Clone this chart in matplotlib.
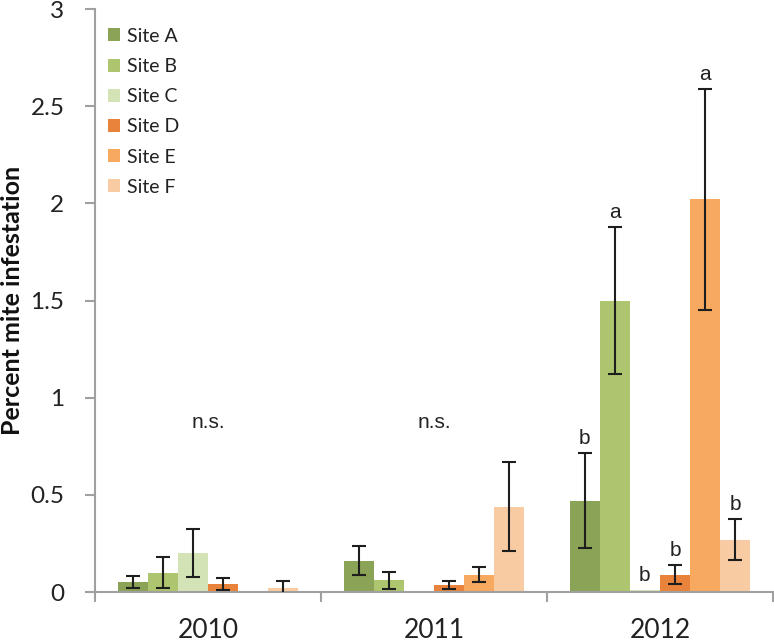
import matplotlib.pyplot as plt
import numpy as np

years = ["2010", "2011", "2012"]
sites = ["Site A", "Site B", "Site C", "Site D", "Site E", "Site F"]
colors = ["#8aa356", "#adc56f", "#d4e3b6", "#e9833b", "#f6a95f", "#f9cba3"]

# mean infestation per site, one list per year
means = {
    "Site A": [0.05, 0.16, 0.47],
    "Site B": [0.10, 0.06, 1.50],
    "Site C": [0.20, 0.005, 0.01],
    "Site D": [0.04, 0.035, 0.09],
    "Site E": [0.0, 0.09, 2.02],
    "Site F": [0.02, 0.44, 0.27],
}
errors = {
    "Site A": [0.03, 0.075, 0.245],
    "Site B": [0.08, 0.045, 0.38],
    "Site C": [0.125, 0.0, 0.0],
    "Site D": [0.03, 0.02, 0.05],
    "Site E": [0.0, 0.04, 0.57],
    "Site F": [0.035, 0.23, 0.105],
}
# significance letters for 2012, in site order
letters_2012 = ["b", "a", "b", "b", "a", "b"]
ns_years = [0, 1]
ns_height = 0.87

plt.rcParams["font.family"] = ["Lato", "DejaVu Sans"]

fig = plt.figure(figsize=(7.74, 6.43), dpi=100)
ax = fig.add_axes([0.1227, 0.0793, 0.876, 0.9067])

x = np.arange(len(years))
width = 1 / 7.5
for i, site in enumerate(sites):
    pos = x + (i - 2.5) * width
    vals = np.array(means[site])
    errs = np.array(errors[site])
    ax.bar(pos, vals, width, color=colors[i], label=site, zorder=2)
    show = errs > 0
    ax.errorbar(pos[show], vals[show], yerr=errs[show], fmt="none",
                ecolor="#1e1e1e", elinewidth=1.5, capsize=5, capthick=1.5, zorder=3)
    top = means[site][2] + errors[site][2]
    ax.text(2 + (i - 2.5) * width, top + 0.025, letters_2012[i],
            ha="center", va="bottom", fontsize=15, family="Liberation Sans", color="#222222")

for k in ns_years:
    ax.text(x[k], ns_height, "n.s.", ha="center", va="center",
            fontsize=15, family="Liberation Sans", color="#222222")

ax.set_xlim(-0.5, 2.5)
ax.set_ylim(0, 3)
ax.set_yticks(np.arange(0, 3.01, 0.5))
ax.set_yticklabels(["0", "0.5", "1", "1.5", "2", "2.5", "3"])
ax.set_xticks(x)
ax.set_xticklabels(years)
ax.set_xticks([-0.5, 0.5, 1.5, 2.5], minor=True)
ax.tick_params(axis="x", which="major", length=0, pad=19, labelsize=19, labelcolor="#222222")
ax.tick_params(axis="x", which="minor", length=7, color="#a0a0a0", width=1.5)
ax.tick_params(axis="y", length=7, color="#a0a0a0", width=1.5, labelsize=17.5,
               pad=15, labelcolor="#222222")
for side in ["top", "right"]:
    ax.spines[side].set_visible(False)
for side in ["left", "bottom"]:
    ax.spines[side].set_color("#a0a0a0")
    ax.spines[side].set_linewidth(1.5)
ax.set_ylabel("Percent mite infestation", fontsize=18, fontweight="bold", color="#111111",
              va="center")
ax.yaxis.set_label_coords(-0.121, 0.5)

ax.legend(loc="upper left", bbox_to_anchor=(0.019, 0.968), frameon=False, fontsize=14,
          handlelength=0.65, handleheight=0.65, labelspacing=0.68, handletextpad=0.35,
          borderaxespad=0, borderpad=0, labelcolor="#222222")

fig.savefig("out.png", dpi=100)
